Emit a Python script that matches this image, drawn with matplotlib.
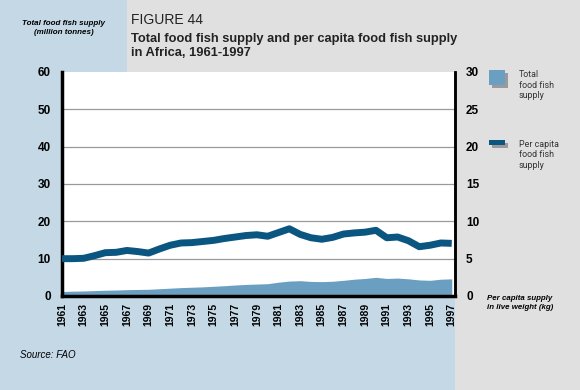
import matplotlib
matplotlib.use("Agg")
import matplotlib.pyplot as plt
from matplotlib.patches import Rectangle

# data
years = list(range(1961, 1998))
total_supply = [1.2, 1.3, 1.35, 1.45, 1.55, 1.6, 1.7, 1.75, 1.8, 1.95,
                2.1, 2.25, 2.35, 2.45, 2.6, 2.75, 2.95, 3.1, 3.2, 3.3,
                3.7, 4.0, 4.1, 3.9, 3.85, 3.95, 4.2, 4.5, 4.7, 5.0,
                4.7, 4.8, 4.6, 4.3, 4.2, 4.5, 4.6]
per_capita = [5.0, 5.0, 5.05, 5.4, 5.8, 5.85, 6.1, 5.95, 5.75, 6.3,
              6.8, 7.1, 7.15, 7.3, 7.45, 7.7, 7.9, 8.1, 8.2, 8.0,
              8.5, 9.0, 8.25, 7.8, 7.6, 7.85, 8.3, 8.45, 8.55, 8.8,
              7.8, 7.9, 7.4, 6.6, 6.8, 7.1, 7.05]
year_ticks = list(range(1961, 1998, 2))

BLUE_BG = "#c4d8e6"
GREY_BG = "#e0e0e0"
AREA = "#6b9fc2"
LINE = "#0b5680"
SANS = ["Liberation Sans", "DejaVu Sans"]
NARROW = ["Roboto", "Liberation Sans", "DejaVu Sans"]

plt.rcParams["font.family"] = SANS

W, H = 580, 390
fig = plt.figure(figsize=(5.8, 3.9), dpi=100)
fig.patch.set_facecolor(GREY_BG)

# background blocks
fig.patches.append(Rectangle((0, 0), 455 / W, (H - 72) / H, transform=fig.transFigure,
                             facecolor=BLUE_BG, edgecolor="none", zorder=-1))
fig.patches.append(Rectangle((0, 0), 127 / W, 1, transform=fig.transFigure,
                             facecolor=BLUE_BG, edgecolor="none", zorder=-1))

ax = fig.add_axes([62 / W, (H - 296) / H, (455 - 62) / W, (296 - 72) / H])
ax.set_facecolor("white")
ax.fill_between(years, total_supply, 0, color=AREA, linewidth=0, zorder=2)
ax.set_xlim(1961, 1997.3)
ax.set_ylim(0, 60)
ax.set_yticks(range(0, 61, 10))
ax.set_xticks(year_ticks)
ax.set_xticklabels([str(y) for y in year_ticks], rotation=90, fontsize=7.5, fontweight="bold")
ax.tick_params(axis="y", labelsize=8.5, length=0, pad=8)
ax.tick_params(axis="x", length=0, pad=5)
for lbl in ax.get_yticklabels():
    lbl.set_fontweight("bold")
for y in range(10, 60, 10):
    ax.axhline(y, color="#9a9a9a", lw=0.9, zorder=1)
ax.spines["top"].set_visible(False)
ax.spines["left"].set_linewidth(2.5)
ax.spines["bottom"].set_linewidth(2.5)
ax.spines["right"].set_linewidth(1.8)

ax2 = ax.twinx()
ax2.plot(years, per_capita, color=LINE, lw=5, solid_capstyle="butt", zorder=3)
ax2.set_ylim(0, 30)
ax2.set_yticks(range(0, 31, 5))
ax2.tick_params(axis="y", labelsize=8.5, length=0, pad=8)
for lbl in ax2.get_yticklabels():
    lbl.set_fontweight("bold")
for s in ["top", "left", "bottom"]:
    ax2.spines[s].set_visible(False)
ax2.spines["right"].set_linewidth(1.8)

# texts
fig.text(64 / W, 1 - 28 / H, "Total food fish supply\n(million tonnes)", ha="center", va="center",
         fontsize=5.8, fontstyle="italic", fontweight="bold", linespacing=1.5)
fig.text(131 / W, 1 - 20 / H, "FIGURE 44", ha="left", va="center", fontsize=10, color="#222222")
fig.text(131 / W, 1 - 46 / H, "Total food fish supply and per capita food fish supply\nin Africa, 1961-1997",
         ha="left", va="center", fontsize=9.3, fontweight="bold", color="#222222", linespacing=1.2)
fig.text(487 / W, 1 - 303 / H, "Per capita supply\nin live weight (kg)", ha="left", va="center",
         fontsize=5.7, fontstyle="italic", fontweight="bold", linespacing=1.45)
fig.text(20 / W, 1 - 355 / H, "Source: FAO", ha="left", va="center", fontsize=7, fontstyle="italic")

# legend
fig.patches.append(Rectangle((492 / W, 1 - 88 / H), 16 / W, 15 / H, transform=fig.transFigure,
                             facecolor="#9a9a9a", edgecolor="none"))
fig.patches.append(Rectangle((489 / W, 1 - 85 / H), 16 / W, 15 / H, transform=fig.transFigure,
                             facecolor=AREA, edgecolor="none"))
fig.text(519 / W, 1 - 85 / H, "Total\nfood fish\nsupply", ha="left", va="center", fontsize=6.4,
         color="#333333", linespacing=1.15, family=NARROW)
fig.patches.append(Rectangle((492 / W, 1 - 148 / H), 16 / W, 5 / H, transform=fig.transFigure,
                             facecolor="#9a9a9a", edgecolor="none"))
fig.patches.append(Rectangle((489 / W, 1 - 145 / H), 16 / W, 5 / H, transform=fig.transFigure,
                             facecolor=LINE, edgecolor="none"))
fig.text(519 / W, 1 - 155 / H, "Per capita\nfood fish\nsupply", ha="left", va="center", fontsize=6.4,
         color="#333333", linespacing=1.15, family=NARROW)

fig.savefig("out.png", dpi=100, facecolor=fig.get_facecolor())
